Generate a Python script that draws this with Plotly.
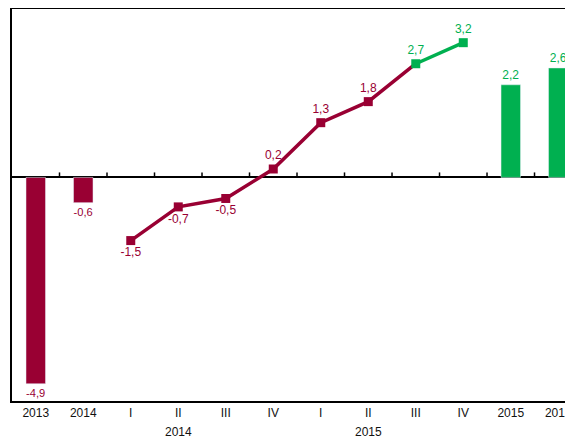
import plotly.graph_objects as go

# ---- data ----
annual_labels = ["2013", "2014"]
annual_values = [-4.9, -0.6]
quarter_labels = ["I", "II", "III", "IV", "I", "II", "III", "IV"]
quarter_years = ["2014", "2015"]
quarter_values = [-1.5, -0.7, -0.5, 0.2, 1.3, 1.8, 2.7, 3.2]
n_quarter_actual = 6          # first six quarterly values are actual (red), rest forecast (green)
forecast_labels = ["2015", "2016"]
forecast_values = [2.2, 2.6]

RED = "#990033"
GREEN = "#00B050"
FONT = "Liberation Sans, Arial, sans-serif"

def fmt(v):
    return f"{v:.1f}".replace(".", ",")

tick_labels = annual_labels + quarter_labels + forecast_labels
n = len(tick_labels)
xs = list(range(n))
x_annual = xs[:len(annual_labels)]
x_quarter = xs[len(annual_labels):len(annual_labels) + len(quarter_labels)]
x_forecast = xs[len(annual_labels) + len(quarter_labels):]

fig = go.Figure()

# annual bars (red)
fig.add_trace(go.Bar(
    x=x_annual, y=annual_values, width=0.41, marker_color=RED,
    text=[fmt(v) for v in annual_values], textposition="outside",
    textfont=dict(color=RED, size=12, family=FONT), cliponaxis=False,
    showlegend=False))

# forecast bars (green)
fig.add_trace(go.Bar(
    x=x_forecast, y=forecast_values, width=0.41, marker_color=GREEN,
    text=[fmt(v) for v in forecast_values], textposition="outside",
    textfont=dict(color=GREEN, size=12, family=FONT), cliponaxis=False,
    showlegend=False))

# quarterly line, actual part (red) - line continues to first forecast point
k = n_quarter_actual
fig.add_trace(go.Scatter(
    x=x_quarter[:k + 1], y=quarter_values[:k + 1], mode="lines",
    line=dict(color=RED, width=3.5), showlegend=False, cliponaxis=False))
fig.add_trace(go.Scatter(
    x=x_quarter[:k], y=quarter_values[:k], mode="markers+text",
    marker=dict(symbol="square", size=9, color=RED),
    text=[fmt(v) for v in quarter_values[:k]],
    textposition=["bottom center" if v < 0 else "top center" for v in quarter_values[:k]],
    textfont=dict(color=RED, size=12, family=FONT),
    showlegend=False, cliponaxis=False))

# quarterly forecast (green)
fig.add_trace(go.Scatter(
    x=x_quarter[k:], y=quarter_values[k:], mode="lines+markers+text",
    line=dict(color=GREEN, width=3.5),
    marker=dict(symbol="square", size=9, color=GREEN),
    text=[fmt(v) for v in quarter_values[k:]], textposition="top center",
    textfont=dict(color=GREEN, size=12, family=FONT),
    showlegend=False, cliponaxis=False))

# zero line ticks between categories (pointing up)
shapes = [dict(type="line", xref="x", yref="y", x0=i + 0.5, x1=i + 0.5,
               ysizemode="pixel", yanchor=0, y0=0, y1=5,
               line=dict(color="black", width=1.5)) for i in range(n - 1)]

# year group labels beneath quarters
annotations = []
for j, yr in enumerate(quarter_years):
    annotations.append(dict(
        x=x_quarter[j * 4 + 1], y=0, xref="x", yref="paper",
        yanchor="top", yshift=-22, text=yr, showarrow=False,
        font=dict(size=12, color="#111", family=FONT)))

# page body has an 8px margin: figure spans x 8..573, y 8..437
fig.update_layout(
    width=565, height=429,
    margin=dict(l=4, r=0, t=1, b=36),
    plot_bgcolor="white", paper_bgcolor="white",
    shapes=shapes, annotations=annotations,
    barmode="overlay",
    font=dict(family=FONT, size=12, color="#111"),
)
fig.update_xaxes(
    range=[-0.5, 11.31], tickmode="array", tickvals=xs, ticktext=tick_labels,
    showline=True, linecolor="black", linewidth=2, mirror=True,
    ticks="", showgrid=False, zeroline=False,
    tickfont=dict(size=12, color="#111", family=FONT))
fig.update_yaxes(
    range=[-5.31, 4.0], showline=True, linecolor="black", linewidth=2,
    mirror=False, showticklabels=False, ticks="", showgrid=False,
    zeroline=True, zerolinecolor="black", zerolinewidth=1.5)

fig.write_html("out.html")
